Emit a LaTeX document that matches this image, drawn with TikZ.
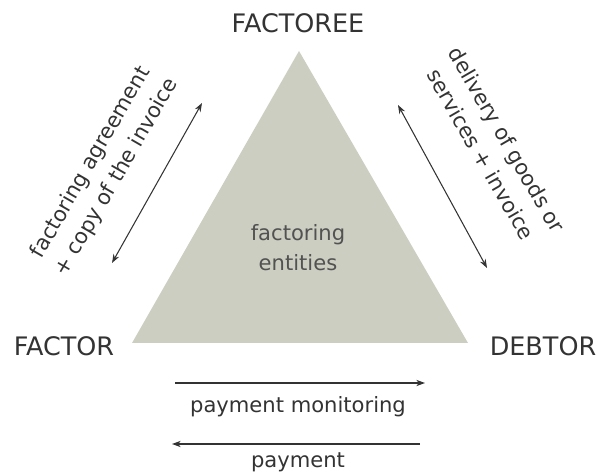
\documentclass[tikz,border=0pt]{standalone}
\usepackage{fontspec}
\setmainfont{DejaVu Sans}
\usetikzlibrary{arrows.meta}
\definecolor{entityfill}{HTML}{CBCEC1}
\definecolor{inkgray}{HTML}{333333}
\begin{document}
\begin{tikzpicture}[x=0.02cm, y=0.02cm,
    party/.style={text=inkgray, font=\fontsize{14.5}{17}\selectfont, inner sep=0pt, anchor=base},
    flowtext/.style={text=inkgray, font=\fontsize{12}{17}\selectfont, inner sep=0pt, align=center},
    flow/.style={draw=inkgray, line width=0.6pt, -{Stealth[length=5pt,width=3.6pt]}},
    bothflow/.style={flow, {Stealth[length=5pt,width=3.6pt]}-{Stealth[length=5pt,width=3.6pt]}}]
    \useasboundingbox (0,0) rectangle (598,473);
    % the triangle of entities
    \coordinate (apex) at (299,422);
    \coordinate (cornerL) at (132,130);
    \coordinate (cornerR) at (468,130);
    \fill[entityfill] (apex) -- (cornerL) -- (cornerR) -- cycle;
    \node[flowtext, text=inkgray!85] (entities) at (298,225) {factoring\\entities};
    % parties
    \node[party] (factoree) at (298,440) {FACTOREE};
    \node[party] (factor) at (64,117) {FACTOR};
    \node[party] (debtor) at (543,117) {DEBTOR};
    % side flows
    \coordinate (agreeS) at (112,210);
    \coordinate (agreeE) at (202,370);
    \draw[bothflow] (agreeS) -- (agreeE);
    \node[flowtext, rotate=60] (agreement) at (104,303) {factoring agreement\\+ copy of the invoice};
    \coordinate (delivS) at (398,368);
    \coordinate (delivE) at (487,205);
    \draw[bothflow] (delivS) -- (delivE);
    \node[flowtext, rotate=-60] (delivery) at (494,326) {delivery of goods or\\services + invoice};
    % bottom flows
    \coordinate (monS) at (175,90);
    \coordinate (monE) at (425,90);
    \draw[flow] (monS) -- (monE);
    \node[flowtext, anchor=base] (monitoring) at (298,60) {payment monitoring};
    \coordinate (payS) at (420,29);
    \coordinate (payE) at (172,29);
    \draw[flow] (payS) -- (payE);
    \node[flowtext, anchor=base] (payment) at (298,6) {payment};
\end{tikzpicture}
\end{document}
